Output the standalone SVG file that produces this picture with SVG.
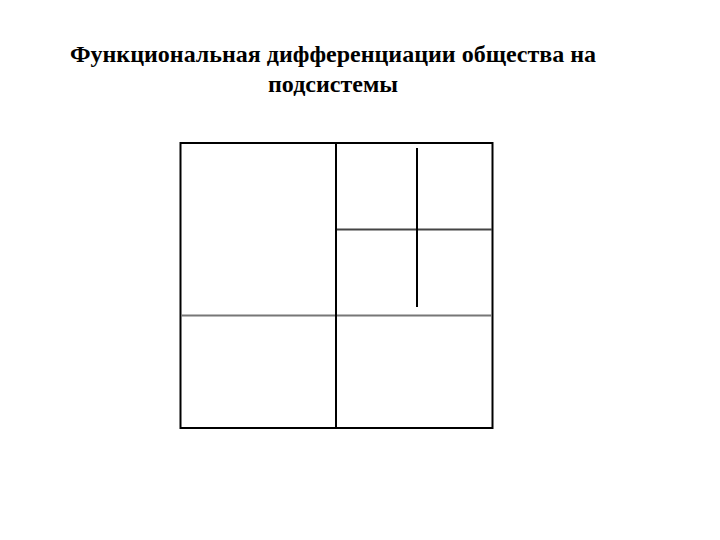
<svg xmlns="http://www.w3.org/2000/svg" width="720" height="540" viewBox="0 0 720 540">
<style>
.title{font-family:"Liberation Serif","Times New Roman",serif;font-weight:bold;font-size:24px;fill:#000;text-anchor:middle}
.blk{stroke:#000;stroke-width:2;fill:none}
.gry{stroke:#777;stroke-width:2;fill:none}
.dgry{stroke:#444;stroke-width:2;fill:none}
</style>
<rect width="720" height="540" fill="#fff"/>
<text class="title" x="333" y="62">Функциональная дифференциации общества на</text>
<text class="title" x="333" y="92">подсистемы</text>
<g id="frame"><rect class="blk" x="180.5" y="143" width="312" height="285"/></g>
<g id="connectors">
<line class="gry" x1="181" y1="315.5" x2="492" y2="315.5"/>
<line class="dgry" x1="336" y1="229.5" x2="492" y2="229.5"/>
<line class="blk" x1="336" y1="143" x2="336" y2="428"/>
<line class="blk" x1="417" y1="148" x2="417" y2="307"/>
</g>
</svg>
